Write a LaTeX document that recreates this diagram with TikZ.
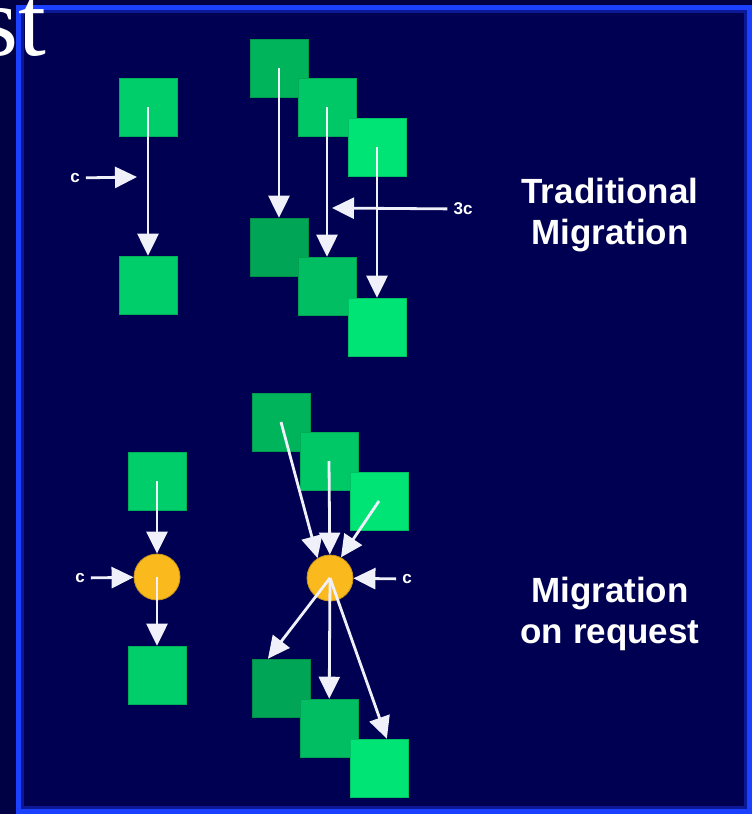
\documentclass[tikz,border=0pt]{standalone}
\usepackage{fontspec}
\setmainfont{Liberation Serif}
\setsansfont{Liberation Sans}
\usetikzlibrary{arrows.meta}
\definecolor{navy}{RGB}{0,0,68}
\definecolor{panel}{RGB}{0,0,82}
\definecolor{rim}{RGB}{28,64,255}
\definecolor{greenA}{RGB}{0,180,92}
\definecolor{greenB}{RGB}{0,200,102}
\definecolor{greenC}{RGB}{0,228,118}
\definecolor{greenM}{RGB}{0,206,106}
\definecolor{amber}{RGB}{250,186,30}
\definecolor{flowc}{RGB}{240,240,250}
\tikzset{
  sq/.style={draw=#1!85!black, fill=#1, line width=0.6pt, minimum size=58pt, inner sep=0pt},
  dot/.style={circle, draw=amber!80!black, fill=amber, line width=0.8pt, minimum size=46pt, inner sep=0pt},
  flow/.style={draw=flowc, line width=2.8pt, -{Triangle[length=22pt,width=21pt]}},
  lbl/.style={text=white, font=\sffamily\bfseries\fontsize{17}{20}\selectfont, inner sep=6pt},
  title/.style={text=white, align=center, font=\sffamily\bfseries\fontsize{35}{41}\selectfont}
}
\begin{document}
\begin{tikzpicture}[x=1pt,y=-1pt]
  \useasboundingbox (0,0) rectangle (752,814);
  \clip (0,0) rectangle (752,814);
  \fill[navy] (0,0) rectangle (752,814);
  \fill[panel] (16,5) rectangle (752,814);
  \draw[rim!40!panel, line width=3pt] (22.5,11.5) rectangle (745.5,807);
  \draw[rim, line width=5pt] (18.5,7.5) rectangle (749.5,811);
  \node (head) [anchor=base east, inner sep=0pt, text=white,
    font=\rmfamily\fontsize{100}{100}\selectfont] at (46,55) {st};
  % traditional migration
  \node (a1) [sq=greenM] at (148,107) {};
  \node (a2) [sq=greenM] at (148,285) {};
  \node (b1t) [sq=greenA] at (279,68) {};
  \node (b2t) [sq=greenB] at (327,107) {};
  \node (b3t) [sq=greenC] at (377,147) {};
  \node (b1b) [sq=greenA!92!black] at (279,247) {};
  \node (b2b) [sq=greenB!95!black] at (327,286) {};
  \node (b3b) [sq=greenC] at (377,327) {};
  \node (ca) [lbl] at (75,178) {c};
  \node (cb) [lbl] at (463,209) {3c};
  \coordinate (catip) at (137,177);
  \coordinate (cbtip) at (332,208);
  \node (trad) [title] at (610,215) {Traditional\\Migration};
  \draw[flow] (a1.center) -- (a2);
  \draw[flow] (ca) -- (catip);
  \draw[flow] (b1t.center) -- (b1b);
  \draw[flow] (b2t.center) -- (b2b);
  \draw[flow] (b3t.center) -- (b3b);
  \draw[flow] (cb) -- (cbtip);
  % migration on request
  \node (c1) [sq=greenM] at (157,481) {};
  \node (dot1) [dot] at (157,577) {};
  \node (c2) [sq=greenM] at (157,675) {};
  \node (d1t) [sq=greenA] at (281,422) {};
  \node (d2t) [sq=greenB] at (329,461) {};
  \node (d3t) [sq=greenC] at (379,501) {};
  \node (dot2) [dot] at (330,578) {};
  \node (d1b) [sq=greenA!92!black] at (281,688) {};
  \node (d2b) [sq=greenB!95!black] at (329,728) {};
  \node (d3b) [sq=greenC] at (379,768) {};
  \node (cl) [lbl] at (80,578) {c};
  \node (cr) [lbl] at (407,579) {c};
  \node (req) [title] at (610,614) {Migration\\on request};
  \draw[flow] (c1.center) -- (dot1);
  \draw[flow] (cl) -- (dot1);
  \draw[flow] (dot1.center) -- (c2);
  \draw[flow] (d1t.center) -- (dot2.122);
  \draw[flow] (d2t.center) -- (dot2);
  \draw[flow] (d3t.center) -- (dot2.62);
  \draw[flow] (cr) -- (dot2);
  \draw[flow] (dot2.center) -- (d1b.114);
  \draw[flow] (dot2.center) -- (d2b);
  \draw[flow] (dot2.center) -- (d3b.75);
\end{tikzpicture}
\end{document}
